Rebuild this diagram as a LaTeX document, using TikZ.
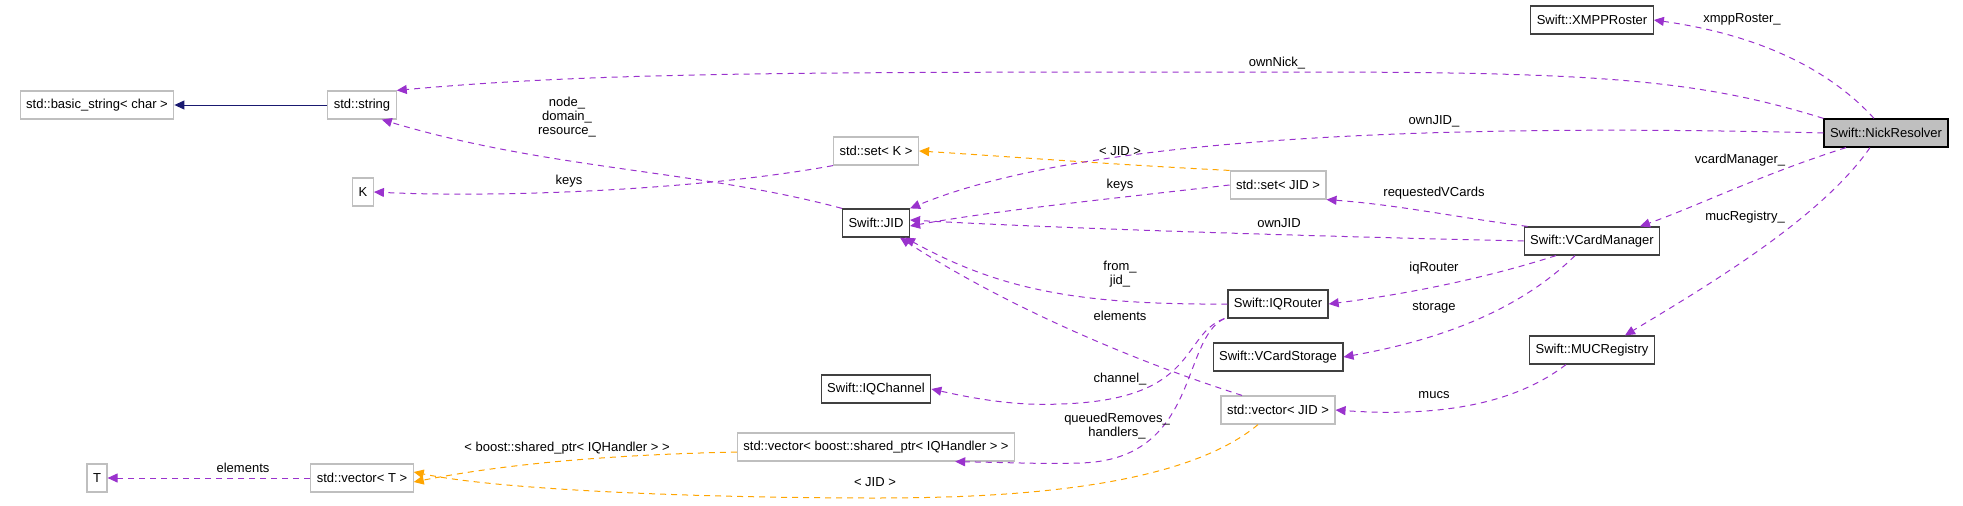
\documentclass[tikz,border=0pt]{standalone}
\usepackage{fontspec}
\setmainfont{Liberation Sans}
\usetikzlibrary{arrows.meta}
\definecolor{member}{HTML}{9A32CD}
\definecolor{tmpl}{HTML}{FFA500}
\definecolor{inherit}{HTML}{191970}
\definecolor{grayline}{HTML}{BFBFBF}
\tikzset{
  cls/.style={draw=black!75, line width=1.2pt, minimum height=28pt, inner xsep=6pt, font=\fontsize{13}{15}\selectfont},
  tpl/.style={cls, draw=grayline},
  use/.style={member, dashed, dash pattern=on 6pt off 5pt, line width=1pt, -{Triangle[length=10pt,width=9pt]}},
  inst/.style={use, tmpl},
  lbl/.style={font=\fontsize{13}{14}\selectfont, align=center, inner sep=0pt}
}
\begin{document}
\begin{tikzpicture}[x=1pt,y=-1pt]
    \useasboundingbox (0,0) rectangle (1963,506);
        % classes
        \node[tpl] (basic) at (97,105) {std::basic\_string< char >};
        \node[tpl] (string) at (362,105) {std::string};
        \node[tpl] (K) at (363,192) {K};
        \node[tpl] (T) at (97,478) {T};
        \node[tpl] (vecT) at (362,478) {std::vector< T >};
        \node[tpl] (setK) at (876,151) {std::set< K >};
        \node[cls] (jid) at (876,223) {Swift::JID};
        \node[cls] (channel) at (876,389) {Swift::IQChannel};
        \node[tpl] (vecShared) at (876,447) {std::vector< boost::shared\_ptr< IQHandler > >};
        \node[tpl] (setJID) at (1278,185) {std::set< JID >};
        \node[cls] (router) at (1278,304) {Swift::IQRouter};
        \node[cls] (storage) at (1278,357) {Swift::VCardStorage};
        \node[tpl] (vecJID) at (1278,410) {std::vector< JID >};
        \node[cls] (roster) at (1592,20) {Swift::XMPPRoster};
        \node[cls] (vcm) at (1592,241) {Swift::VCardManager};
        \node[cls] (muc) at (1592,350) {Swift::MUCRegistry};
        \node[cls, fill=grayline, draw=black] (nick) at (1886,133) {Swift::NickResolver};
        % inheritance
        \draw[inherit, line width=1pt, -{Triangle[length=10pt,width=9pt]}] (string) -- (basic);
        % members
        \draw[use] (nick.north west) .. controls (1700,80) and (1600,72) .. (1300,72) .. controls (800,72) and (600,72) .. (string.north east);
        \node[lbl] at (1277,63) {ownNick\_};
        \draw[use] (jid.north west) .. controls (700,170) and (550,170) .. ([xshift=-15pt]string.south east);
        \node[lbl] at (567,117) {node\_\\domain\_\\resource\_};
        \draw[use] (setK.south west) .. controls (700,190) and (500,198) .. (K.east);
        \node[lbl] at (569,181) {keys};
        \draw[inst] (setJID.north west) .. controls (1120,165) and (1000,156) .. (setK.east);
        \node[lbl] at (1120,151) {< JID >};
        \draw[use] (nick.west) .. controls (1500,125) and (1100,130) .. (jid.north east);
        \node[lbl] at (1434,121) {ownJID\_};
        \draw[use] (setJID.west) .. controls (1100,200) and (1000,210) .. ([yshift=-3pt]jid.east);
        \node[lbl] at (1120,185) {keys};
        \draw[use] (vcm.west) .. controls (1300,236) and (1050,228) .. ([yshift=3pt]jid.east);
        \node[lbl] at (1279,223) {ownJID};
        \draw[use] ([xshift=4pt]vcm.north west) .. controls (1460,218) and (1400,205) .. (setJID.south east);
        \node[lbl] at (1434,193) {requestedVCards};
        \draw[use] ([xshift=-40pt]nick.south) .. controls (1760,175) and (1700,205) .. ([xshift=48pt]vcm.north);
        \node[lbl] at (1740,160) {vcardManager\_};
        \draw[use] ([xshift=-12pt]nick.north) .. controls (1830,70) and (1760,35) .. (roster.east);
        \node[lbl] at (1742,19) {xmppRoster\_};
        \draw[use] ([xshift=-16pt]nick.south) .. controls (1820,220) and (1700,290) .. ([xshift=33pt]muc.north);
        \node[lbl] at (1745,217) {mucRegistry\_};
        \draw[use] ([xshift=-36pt]vcm.south) .. controls (1480,280) and (1400,295) .. (router.east);
        \node[lbl] at (1434,268) {iqRouter};
        \draw[use] ([xshift=-17pt]vcm.south) .. controls (1520,310) and (1440,340) .. (storage.east);
        \node[lbl] at (1434,308) {storage};
        \draw[use] ([xshift=-26pt]muc.south) .. controls (1520,400) and (1450,418) .. (vecJID.east);
        \node[lbl] at (1434,395) {mucs};
        \draw[use] (router.west) .. controls (1080,305) and (1000,290) .. ([xshift=29pt]jid.south);
        \node[lbl] at (1120,274) {from\_\\jid\_};
        \draw[use] ([xshift=-36pt]vecJID.north) .. controls (1100,350) and (980,290) .. ([xshift=24pt]jid.south);
        \node[lbl] at (1120,316) {elements};
        \draw[use] ([xshift=-3pt]router.south west) .. controls (1180,335) and (1200,400) .. (1060,404) .. controls (1020,406) and (980,400) .. (channel.east);
        \node[lbl] at (1120,379) {channel\_};
        \draw[use] ([xshift=-3pt]router.south west) .. controls (1180,340) and (1200,460) .. (1080,463) .. controls (1040,464) and (1030,463) .. ([xshift=-60pt]vecShared.south east);
        \node[lbl] at (1117,426) {queuedRemoves\_\\handlers\_};
        \draw[inst] ([yshift=-5pt]vecShared.west) .. controls (600,455) and (500,465) .. ([yshift=-4pt]vecT.east);
        \node[lbl] at (567,448) {< boost::shared\_ptr< IQHandler > >};
        \draw[inst] ([xshift=-20pt]vecJID.south) .. controls (1180,490) and (1000,498) .. (876,498) .. controls (700,498) and (500,490) .. ([yshift=6pt]vecT.east);
        \node[lbl] at (875,482) {< JID >};
        \draw[use] (vecT) -- (T);
        \node[lbl] at (243,468) {elements};
\end{tikzpicture}
\end{document}
